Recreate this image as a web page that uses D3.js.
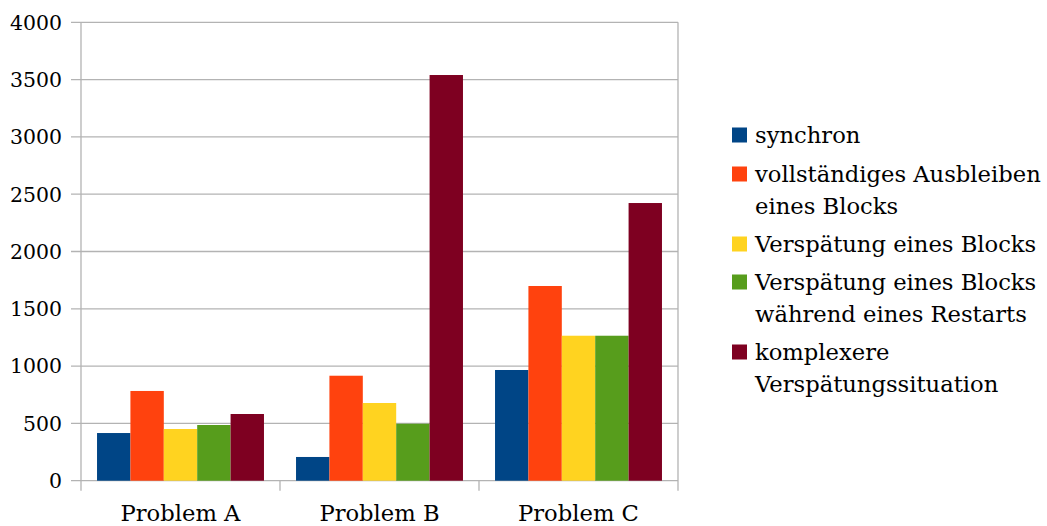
<!DOCTYPE html>
<html>
<head>
<meta charset="utf-8">
<script src="https://cdn.jsdelivr.net/npm/d3@7"></script>
<style>
  html, body { margin: 0; padding: 0; background: #fff; }
  svg { display: block; }
</style>
</head>
<body>
<svg id="chart" width="1047" height="526"></svg>
<script>
// Chart data
const categories = ["Problem A", "Problem B", "Problem C"];
const seriesNames = [
  ["synchron"],
  ["vollständiges Ausbleiben", "eines Blocks"],
  ["Verspätung eines Blocks"],
  ["Verspätung eines Blocks", "während eines Restarts"],
  ["komplexere", "Verspätungssituation"]
];
const seriesColors = ["#004586", "#ff420e", "#ffd320", "#579d1c", "#7e0021"];
const synchron = [416, 207, 966];
const ausbleiben = [783, 916, 1699];
const verspaetung = [451, 678, 1265];
const verspaetungRestart = [486, 497, 1265];
const komplex = [582, 3540, 2423];
const seriesValues = [synchron, ausbleiben, verspaetung, verspaetungRestart, komplex];
const yTicks = [0, 500, 1000, 1500, 2000, 2500, 3000, 3500, 4000];

const svg = d3.select("#chart");
const plot = { left: 81, right: 678, top: 22.3, bottom: 480.7 };
const gridColor = "#b3b3b3";
const fontFamily = "'DejaVu Serif', serif";

// Size a font so that a given string spans the wanted width
function fitSize(str, width, maxSize) {
  const probe = svg.append("text")
    .attr("font-family", fontFamily)
    .attr("font-size", 100)
    .text(str);
  const size = Math.min(maxSize, 100 * width / probe.node().getComputedTextLength());
  probe.remove();
  return size;
}
const fontSize = fitSize("vollständiges Ausbleiben", 286, 26);
const tickFontSize = fitSize("4000", 52, 26);

const y = d3.scaleLinear().domain([0, 4000]).range([plot.bottom, plot.top]);
const x = d3.scaleBand().domain(categories).range([plot.left, plot.right]).padding(0);
const inner = d3.scaleBand()
  .domain(d3.range(seriesNames.length))
  .range([0, x.bandwidth()])
  .paddingOuter(0.48)
  .paddingInner(0);

// Horizontal grid lines
svg.append("g")
  .selectAll("line")
  .data(yTicks)
  .join("line")
  .attr("x1", plot.left - 10)
  .attr("x2", plot.right)
  .attr("y1", d => y(d))
  .attr("y2", d => y(d))
  .attr("stroke", gridColor)
  .attr("stroke-width", 1.3);

// Y axis labels
svg.append("g")
  .selectAll("text")
  .data(yTicks)
  .join("text")
  .attr("x", plot.left - 19)
  .attr("y", d => y(d))
  .attr("dy", "0.36em")
  .attr("text-anchor", "end")
  .attr("font-family", fontFamily)
  .attr("font-size", tickFontSize)
  .text(d => d);

// Vertical axis line and right border
svg.append("line")
  .attr("x1", plot.left).attr("x2", plot.left)
  .attr("y1", plot.top).attr("y2", plot.bottom + 10)
  .attr("stroke", gridColor).attr("stroke-width", 1.3);
svg.append("line")
  .attr("x1", plot.right).attr("x2", plot.right)
  .attr("y1", plot.top).attr("y2", plot.bottom + 10)
  .attr("stroke", gridColor).attr("stroke-width", 1.3);

// Category separators below the baseline
svg.append("g")
  .selectAll("line")
  .data(categories.slice(1))
  .join("line")
  .attr("x1", d => x(d)).attr("x2", d => x(d))
  .attr("y1", plot.bottom).attr("y2", plot.bottom + 10)
  .attr("stroke", gridColor).attr("stroke-width", 1.3);

// Bars
const groups = svg.append("g")
  .selectAll("g")
  .data(categories)
  .join("g")
  .attr("transform", d => `translate(${x(d)},0)`);

groups.selectAll("rect")
  .data((c, ci) => seriesValues.map((vals, si) => ({ si, v: vals[ci] })))
  .join("rect")
  .attr("x", d => inner(d.si))
  .attr("width", inner.bandwidth())
  .attr("y", d => y(d.v))
  .attr("height", d => y(0) - y(d.v))
  .attr("fill", d => seriesColors[d.si]);

// Category labels
svg.append("g")
  .selectAll("text")
  .data(categories)
  .join("text")
  .attr("x", d => x(d) + x.bandwidth() / 2)
  .attr("y", 521)
  .attr("text-anchor", "middle")
  .attr("font-family", fontFamily)
  .attr("font-size", fontSize)
  .text(d => d);

// Legend
const legendBaselines = [143, 182, 252, 290, 360];
const lineGap = 31.5;
const legend = svg.append("g")
  .selectAll("g")
  .data(seriesNames)
  .join("g");

legend.append("rect")
  .attr("x", 732)
  .attr("y", (d, i) => legendBaselines[i] - 15.5)
  .attr("width", 15)
  .attr("height", 15)
  .attr("fill", (d, i) => seriesColors[i]);

legend.append("text")
  .attr("font-family", fontFamily)
  .attr("font-size", fontSize)
  .selectAll("tspan")
  .data((d, i) => d.map((line, li) => ({ line, li, i })))
  .join("tspan")
  .attr("x", 755)
  .attr("y", d => legendBaselines[d.i] + d.li * lineGap)
  .text(d => d.line);
</script>
</body>
</html>
